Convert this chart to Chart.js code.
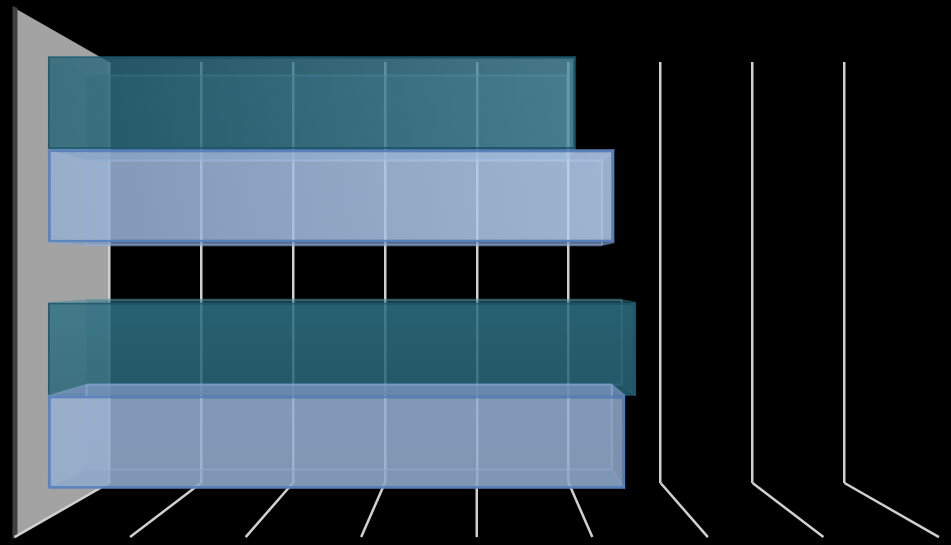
<!DOCTYPE html>
<html>
<head>
<meta charset="utf-8">
<title>3D bar chart</title>
<script src="https://cdn.jsdelivr.net/npm/chart.js@4"></script>
<style>
  html, body { margin: 0; padding: 0; background: #000; }
  canvas { display: block; }
</style>
</head>
<body>
<canvas id="chart" width="951" height="545"></canvas>
<script>
// Values (no labels are visible in it)
const categories = ['1', '2'];
const tealValues = [4.92, 5.48];
const lightValues = [5.28, 5.38];
const tickMax = 8;

// Perspective factors, measured from the back wall (1 = wall plane)
const WALL_FRONT = 1.257;
const BAR_BACK = 1.065;
const BAR_FRONT = 1.17;

const tealStyle = { face: 'rgba(42,110,128,0.45)', top: 'rgba(60,125,143,0.22)', side: 'rgba(70,135,150,0.30)', line: 'rgba(95,155,170,0.5)', corner: 'rgba(95,155,170,0.2)' };
const lightStyle = { face: 'rgba(155,182,222,0.45)', top: 'rgba(118,142,190,0.55)', side: 'rgba(170,198,238,0.30)', line: 'rgba(150,180,225,0.55)', corner: 'rgba(150,180,225,0.25)' };

function project(area, x, y, k) {
  const cx = (area.left + area.right) / 2;
  const cy = (area.top + area.bottom) / 2;
  return [cx + (x - cx) * k, cy + (y - cy) * k];
}

function quad(ctx, pts, fill) {
  ctx.beginPath();
  ctx.moveTo(pts[0][0], pts[0][1]);
  for (let i = 1; i < pts.length; i++) ctx.lineTo(pts[i][0], pts[i][1]);
  ctx.closePath();
  ctx.fillStyle = fill;
  ctx.fill();
}

// Everything behind the front face of one bar
function drawBarBody(ctx, area, el, style) {
  const left = el.base, right = el.x;
  const top = el.y - el.height / 2, bottom = el.y + el.height / 2;
  const b = (x, y) => project(area, x, y, BAR_BACK);
  const f = (x, y) => project(area, x, y, BAR_FRONT);

  quad(ctx, [b(left, top), b(right, top), b(right, bottom), b(left, bottom)], style.face);
  quad(ctx, [f(left, top), b(left, top), b(left, bottom), f(left, bottom)], style.side);
  quad(ctx, [f(right, top), b(right, top), b(right, bottom), f(right, bottom)], style.side);
  quad(ctx, [f(left, top), f(right, top), b(right, top), b(left, top)], style.top);
  quad(ctx, [f(left, bottom), f(right, bottom), b(right, bottom), b(left, bottom)], style.top);

  // edges of the back plane and the corners running to it
  const back = [b(left, top), b(right, top), b(right, bottom), b(left, bottom)];
  const front = [f(left, top), f(right, top), f(right, bottom), f(left, bottom)];
  ctx.lineWidth = 2;
  ctx.strokeStyle = style.line;
  ctx.beginPath();
  back.forEach((p, i) => {
    const n = back[(i + 1) % 4];
    ctx.moveTo(p[0], p[1]);
    ctx.lineTo(n[0], n[1]);
  });
  ctx.stroke();
  ctx.strokeStyle = style.corner;
  ctx.beginPath();
  back.forEach((p, i) => {
    ctx.moveTo(front[i][0], front[i][1]);
    ctx.lineTo(p[0], p[1]);
  });
  ctx.stroke();
}

const scene3d = {
  id: 'scene3d',
  beforeDraw(chart) {
    const { ctx, chartArea: a } = chart;
    const tl = project(a, a.left, a.top, WALL_FRONT);
    const bl = project(a, a.left, a.bottom, WALL_FRONT);
    // side wall and its dark edge
    quad(ctx, [tl, [a.left, a.top], [a.left, a.bottom], bl], '#a3a3a3');
    quad(ctx, [[tl[0] - 2, tl[1] - 2], [tl[0] + 3, tl[1]], [bl[0] + 3, bl[1]], [bl[0] - 2, bl[1] + 2]], '#404040');
  },
  beforeDatasetsDraw(chart) {
    const { ctx, chartArea: a, scales } = chart;
    // floor lines continue the grid lines toward the viewer
    ctx.save();
    ctx.strokeStyle = '#d0d0d0';
    ctx.lineWidth = 2.5;
    ctx.lineJoin = 'round';
    scales.x.ticks.forEach((t, i) => {
      const x = scales.x.getPixelForTick(i);
      const end = project(a, x, a.bottom, WALL_FRONT);
      ctx.beginPath();
      ctx.moveTo(x, a.bottom);
      ctx.lineTo(end[0], end[1]);
      ctx.stroke();
    });
    ctx.restore();

    // teal first, light second, so the light bars sit over the teal ones
    const cx = (a.left + a.right) / 2;
    const cy = (a.top + a.bottom) / 2;
    chart.data.datasets.forEach((ds, i) => {
      const meta = chart.getDatasetMeta(i);
      const style = i === 0 ? tealStyle : lightStyle;
      ctx.save();
      meta.data.forEach(el => drawBarBody(ctx, a, el, style));
      ctx.translate(cx, cy);
      ctx.scale(BAR_FRONT, BAR_FRONT);
      ctx.translate(-cx, -cy);
      meta.controller.draw();
      ctx.restore();
    });
    return false;
  }
};

function tealFill(context) {
  const a = context.chart.chartArea;
  if (!a) return '#2a6e80';
  if (context.dataIndex === 1) {
    const g = context.chart.ctx.createLinearGradient(0, 290, 0, 385);
    g.addColorStop(0, 'rgba(46,112,130,0.76)');
    g.addColorStop(1, 'rgba(38,100,118,0.76)');
    return g;
  }
  const g = context.chart.ctx.createLinearGradient(a.left, 160, 570, 80);
  g.addColorStop(0, 'rgba(36,98,116,0.76)');
  g.addColorStop(1, 'rgba(88,150,170,0.76)');
  return g;
}

function lightFill(context) {
  const a = context.chart.chartArea;
  if (!a) return '#9bb4d7';
  if (context.dataIndex === 1) {
    const g = context.chart.ctx.createLinearGradient(0, 380, 0, 460);
    g.addColorStop(0, 'rgba(150,174,208,0.76)');
    g.addColorStop(1, 'rgba(146,172,204,0.76)');
    return g;
  }
  const g = context.chart.ctx.createLinearGradient(a.left, 250, 600, 170);
  g.addColorStop(0, 'rgba(146,172,206,0.76)');
  g.addColorStop(1, 'rgba(188,212,244,0.76)');
  return g;
}

new Chart(document.getElementById('chart'), {
  type: 'bar',
  plugins: [scene3d],
  data: {
    labels: categories,
    datasets: [
      { data: tealValues, backgroundColor: tealFill, borderColor: 'rgba(30,92,112,0.95)', borderWidth: 2, borderSkipped: false },
      { data: lightValues, backgroundColor: lightFill, borderColor: 'rgba(88,130,190,0.95)', borderWidth: 2.5, borderSkipped: false }
    ]
  },
  options: {
    indexAxis: 'y',
    responsive: false,
    animation: false,
    devicePixelRatio: 1,
    categoryPercentage: 0.757,
    barPercentage: 1,
    layout: { padding: { left: 109, right: 106.5, top: 62, bottom: 62 } },
    plugins: { legend: { display: false }, tooltip: { enabled: false } },
    scales: {
      x: {
        min: 0,
        max: tickMax,
        ticks: { display: false, stepSize: 1 },
        border: { display: false },
        grid: { color: '#d0d0d0', lineWidth: 2.5, drawTicks: false }
      },
      y: {
        ticks: { display: false },
        border: { display: false },
        grid: { display: false, drawTicks: false }
      }
    }
  }
});
</script>
</body>
</html>
